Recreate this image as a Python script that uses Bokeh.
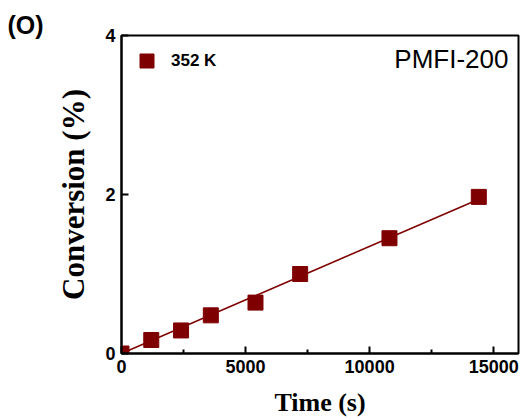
import numpy as np
from bokeh.plotting import figure
from bokeh.models import (ColumnDataSource, FixedTicker, Legend, LegendItem,
                          Label, Range1d, Title)
from bokeh.embed import file_html
from bokeh.resources import INLINE

# Conversion vs. time at 352 K for PMFI-200
time_s = [0, 1200, 2400, 3600, 5400, 7200, 10800, 14400]
conversion = [0.0, 0.17, 0.29, 0.48, 0.64, 1.00, 1.45, 1.97]
series_label = "352 K"
sample_name = "PMFI-200"
panel_tag = "(O)"
x_ticks = [0, 5000, 10000, 15000]
x_minor = [2500, 7500, 12500]
y_ticks = [0, 2, 4]

RED = "#7f0000"
SANS = "Liberation Sans"
SERIF = "Liberation Serif"

W, H = 526, 420
LEFT, RIGHT, TOP, BOTTOM = 121, 8, 35, 67
X0, X1, Y0, Y1 = 0, 16000, 0, 4

p = figure(width=W, height=H, output_backend="svg", toolbar_location=None,
           x_range=Range1d(X0, X1), y_range=Range1d(Y0, Y1),
           min_border_left=LEFT, min_border_right=RIGHT, min_border_top=TOP,
           min_border_bottom=BOTTOM)
p.background_fill_color = "white"
p.border_fill_color = "white"
p.grid.visible = False
p.outline_line_color = "black"
p.outline_line_width = 2


def px_to_data(px, py):
    """Convert canvas pixel position to data coordinates of the frame."""
    fw = W - LEFT - RIGHT
    fh = H - TOP - BOTTOM
    dx = X0 + (px - LEFT) * (X1 - X0) / fw
    dy = Y0 + (H - BOTTOM - py) * (Y1 - Y0) / fh
    return dx, dy


# linear fit through the origin
xa = np.array(time_s, dtype=float)
ya = np.array(conversion, dtype=float)
slope = (xa * ya).sum() / (xa * xa).sum()
fit_x = [0, xa.max()]
fit_y = [0, slope * xa.max()]
p.line(fit_x, fit_y, line_color=RED, line_width=1.6)

src = ColumnDataSource(dict(t=time_s, c=conversion))
pts = p.scatter("t", "c", source=src, marker="square", size=15,
                fill_color=RED, line_color=RED)

legend = Legend(items=[LegendItem(label=series_label, renderers=[pts])],
                location="top_left", border_line_color=None,
                background_fill_alpha=0, margin=8, padding=8,
                label_standoff=7, label_text_font=SANS,
                label_text_font_style="bold", label_text_font_size="17px",
                label_text_color="black",
                glyph_width=35, glyph_height=35)
p.add_layout(legend)

for ax in (p.xaxis[0], p.yaxis[0]):
    ax.axis_line_width = 2
    ax.axis_line_color = "black"
    ax.major_tick_line_width = 2
    ax.minor_tick_line_width = 2
    ax.major_tick_line_color = "black"
    ax.minor_tick_line_color = "black"
    ax.major_tick_in = 7
    ax.major_tick_out = 0
    ax.minor_tick_in = 4
    ax.minor_tick_out = 0
    ax.major_label_text_font = SANS
    ax.major_label_text_font_style = "bold"
    ax.major_label_text_font_size = "18px"
    ax.major_label_text_color = "black"
    ax.axis_label_text_font = SERIF
    ax.axis_label_text_font_style = "bold"
    ax.axis_label_text_font_size = "26px"
    ax.axis_label_text_color = "black"
    ax.major_label_standoff = 6

p.xaxis.ticker = FixedTicker(ticks=x_ticks, minor_ticks=x_minor)
p.yaxis.ticker = FixedTicker(ticks=y_ticks, minor_ticks=[])
p.xaxis.axis_label = "Time (s)"
p.xaxis.axis_label_standoff = 12

# y-axis title as a side panel, shifted a little below the frame centre
p.add_layout(Title(text="Conversion (%)", align="center", offset=-22,
                   standoff=23, text_font=SERIF, text_font_style="bold",
                   text_font_size="31px", text_color="black"), "left")

# panel tag in the top-left corner
p.add_layout(Title(text=panel_tag, align="left", offset=-114, standoff=-7,
                   text_font=SANS, text_font_style="bold",
                   text_font_size="25px", text_color="black"), "above")

sx, sy = px_to_data(508, 58)
p.add_layout(Label(x=sx, y=sy, text=sample_name, text_align="right",
                   text_baseline="middle", text_font=SANS,
                   text_font_size="26px", text_color="black"))

open("out.html", "w").write(file_html(p, INLINE))
